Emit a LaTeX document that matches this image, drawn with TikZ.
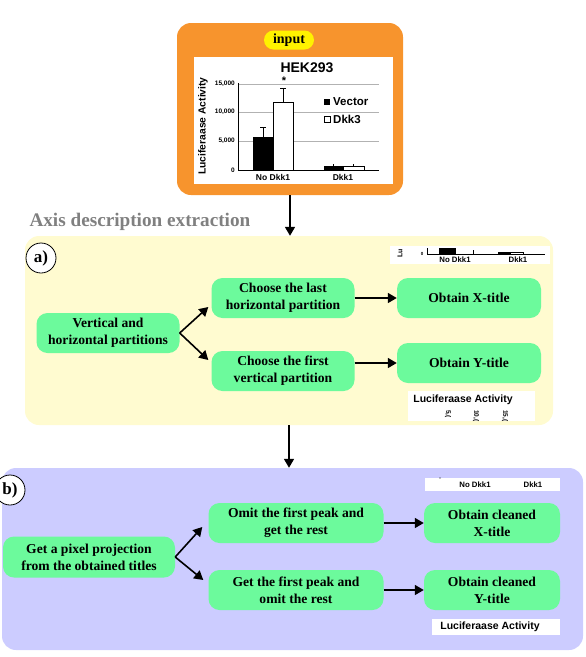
\documentclass[tikz,border=0pt]{standalone}
\usepackage{fontspec}
\setmainfont{Liberation Serif}
\newfontfamily\chartfont{Liberation Sans}
\usetikzlibrary{arrows.meta,positioning}

\definecolor{orangebg}{RGB}{247,148,45}
\definecolor{creambg}{RGB}{255,251,208}
\definecolor{lilacbg}{RGB}{204,204,255}
\definecolor{mint}{RGB}{108,250,156}
\definecolor{headgray}{RGB}{128,128,128}

\tikzset{
  panel/.style={rounded corners=14pt, inner sep=0pt},
  proc/.style={rounded corners=11pt, fill=mint, align=center, inner sep=0pt,
    font=\fontsize{13.6}{16.7}\selectfont\bfseries, minimum height=40pt},
  bigarrow/.style={line width=1.6pt, -{Triangle[length=9pt,width=10pt]}},
  tag/.style={circle, draw, fill=white, line width=0.8pt, minimum size=30pt,
    inner sep=0pt, font=\fontsize{17}{17}\selectfont\bfseries},
  snip/.style={fill=white, inner sep=0pt},
  chart/.style={inner sep=0pt, font=\chartfont\bfseries\fontsize{#1}{#1}\selectfont},
  chart/.default=8
}

\begin{document}
\begin{tikzpicture}[x=1pt,y=-1pt]
    \useasboundingbox (0,0) rectangle (586,657);

    % the three panels
    \node[panel, fill=orangebg, minimum width=226pt, minimum height=172pt] (inp) at (290,109) {};
    \node[panel, fill=creambg, minimum width=528pt, minimum height=189pt] (pa) at (289,330.5) {};
    \node[panel, fill=lilacbg, minimum width=581pt, minimum height=182pt] (pb) at (292.5,559) {};

    % input chart
    \node[rounded corners=9.5pt, fill=yellow, minimum width=50pt, minimum height=19pt,
      inner sep=0pt, font=\fontsize{14}{14}\selectfont\bfseries] (intag) at (289,40) {input};
    \fill[white] (194,57) rectangle (393,184);
    \node[chart=14] (hek) at (307,68) {HEK293};
    \foreach \y in {84,112,141}
        \draw[gray!60, line width=0.4pt] (238,\y) -- (379,\y);
    \draw[line width=0.6pt] (238,83) -- (238,170) -- (379,170);
    \foreach \y/\t in {84/{15,000},112/{10,000},141/{5,000},170/0}
        \node[chart=6.5, anchor=east] (tick\y) at (235,\y) {\t};
    \node[chart=10.3, rotate=90] (ylab) at (203,126) {Luciferaase Activity};
    \filldraw[line width=0.5pt] (253,137) rectangle (273,170);
    \draw[line width=0.5pt, fill=white] (273,102) rectangle (293,170);
    \draw[line width=0.6pt] (263,137) -- (263,127) (260,127) -- (266,127);
    \draw[line width=0.6pt] (283,102) -- (283,88) (280,88) -- (286,88);
    \node[chart=11] (star) at (284,81) {*};
    \filldraw[line width=0.5pt] (324,166.5) rectangle (343,170);
    \draw[line width=0.5pt, fill=white] (343,166) rectangle (364,170);
    \draw[line width=0.5pt] (333,166.5) -- (333,164) (353,166) -- (353,164);
    \fill (324,99) rectangle (330,105);
    \node[chart=11.5, anchor=west] (vec) at (333,102) {Vector};
    \draw[line width=0.4pt, fill=white] (324,116) rectangle (330,122);
    \node[chart=11.5, anchor=west] (dkk) at (333,119) {Dkk3};
    \node[chart=8.5] (nodkk) at (273,177.5) {No Dkk1};
    \node[chart=8.5] (wdkk) at (343,177.5) {Dkk1};

    \draw[bigarrow] (inp.south) -- (inp.south |- pa.north);
    \node[text=headgray, font=\fontsize{19.2}{19.2}\selectfont\bfseries, anchor=west] (head) at (26,222) {Axis description extraction};

    % panel a)
    \node[tag] (taga) at (41,258) {a)};
    \fill[white] (390,246) rectangle (550,264);
    \node[chart=7, rotate=90] (lua) at (400,253) {Lu};
    \node[chart=4.5] (zeroa) at (422,254) {0};
    \draw[line width=0.5pt] (427,248) -- (427,254) -- (545,254) (473,250) -- (473,254);
    \fill (439,248) rectangle (456,254);
    \filldraw[line width=0.4pt] (498,252) rectangle (510,254);
    \draw[line width=0.4pt, fill=white] (510,252) rectangle (523,254);
    \node[chart=7.8] (nda) at (455,260) {No Dkk1};
    \node[chart=7.8] (da) at (518,260) {Dkk1};

    \node[proc, minimum width=143pt] (vh) at (108,333) {Vertical and\\horizontal partitions};
    \node[proc, minimum width=143pt] (last) at (283,298) {Choose the last\\horizontal partition};
    \node[proc, minimum width=143pt] (first) at (283,371) {Choose the first\\vertical partition};
    \node[proc, minimum width=144pt] (xt) at (469,298) {Obtain X-title};
    \node[proc, minimum width=144pt] (yt) at (469,363) {Obtain Y-title};
    \draw[bigarrow] (vh.east) -- ([xshift=-3pt,yshift=-9pt]last.west);
    \draw[bigarrow] (vh.east) -- ([xshift=-3pt,yshift=11pt]first.west);
    \draw[bigarrow] (last.east) -- (xt.west);
    \draw[bigarrow] (first.east |- yt.west) -- (yt.west);

    \fill[white] (408,391) rectangle (535,421);
    \node[chart=10.5] (lucia) at (463,400) {Luciferaase Activity};
    \foreach \x/\t in {448/{5,(},476/{10,(},505/{15,(}}
        \node[chart=6.5, rotate=-90, anchor=west] (ta\x) at (\x,410) {\t};

    \draw[bigarrow] (pa.south) -- (pa.south |- pb.north);

    % panel b)
    \node[tag] (tagb) at (10,490) {b)};
    \fill[white] (425,478) rectangle (560,491);
    \fill (440,478) circle (0.6pt);
    \node[chart=7.8] (ndb) at (475,484.5) {No Dkk1};
    \node[chart=7.8] (db) at (533,484.5) {Dkk1};

    \node[proc, minimum width=172pt, minimum height=41pt] (gp) at (89,557) {Get a pixel projection\\from the obtained titles};
    \node[proc, minimum width=175pt] (omit) at (296,523) {Omit the first peak and\\get the rest};
    \node[proc, minimum width=175pt] (keep) at (296,590) {Get the first peak and\\omit the rest};
    \node[proc, minimum width=136pt] (cx) at (492,523) {Obtain cleaned\\X-title};
    \node[proc, minimum width=136pt] (cy) at (492,590) {Obtain cleaned\\Y-title};
    \draw[bigarrow] (gp.east) -- ([xshift=-6pt,yshift=-4pt]omit.west);
    \draw[bigarrow] (gp.east) -- ([xshift=-5pt,yshift=10pt]keep.west);
    \draw[bigarrow] (omit.east) -- (cx.west);
    \draw[bigarrow] (keep.east) -- (cy.west);

    \fill[white] (432,619) rectangle (560,635);
    \node[chart=10.5] (lucib) at (490,627) {Luciferaase Activity};
\end{tikzpicture}
\end{document}
